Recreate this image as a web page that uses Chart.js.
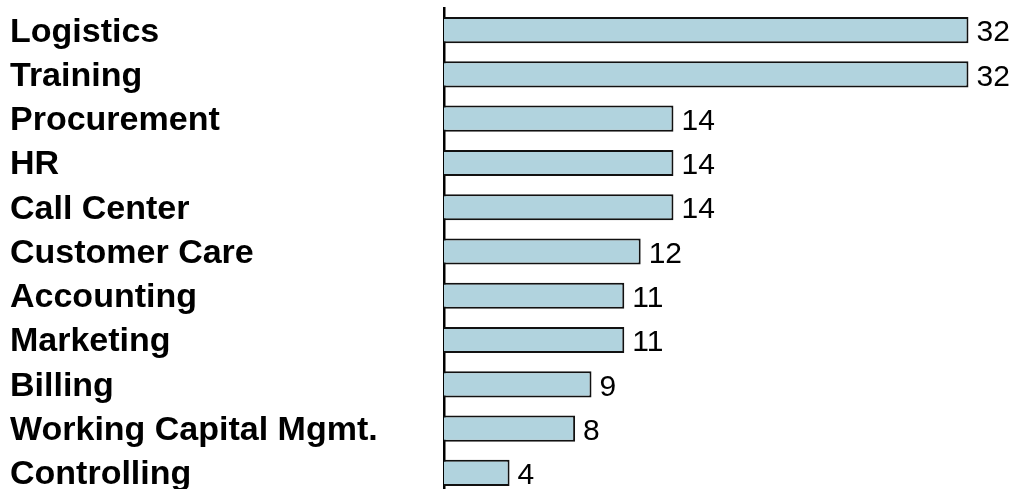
<!DOCTYPE html>
<html>
<head>
<meta charset="utf-8">
<script src="https://cdn.jsdelivr.net/npm/chart.js@4/dist/chart.umd.min.js"></script>
<style>
  html, body { margin: 0; padding: 0; background: #fff; overflow: hidden; }
  #wrap { width: 1016px; height: 496px; }
</style>
</head>
<body>
<div id="wrap"><canvas id="chart" width="1016" height="496"></canvas></div>
<script>
const departments = [
  "Logistics", "Training", "Procurement", "HR", "Call Center",
  "Customer Care", "Accounting", "Marketing", "Billing",
  "Working Capital Mgmt.", "Controlling"
];
const counts = [32, 32, 14, 14, 14, 12, 11, 11, 9, 8, 4];

// value text to the right of each bar
const valueLabels = {
  id: "valueLabels",
  afterDatasetsDraw(chart) {
    const ctx = chart.ctx;
    const meta = chart.getDatasetMeta(0);
    ctx.save();
    ctx.font = "30px 'Liberation Sans', Arial, sans-serif";
    ctx.fillStyle = "#000";
    ctx.textAlign = "left";
    ctx.textBaseline = "middle";
    meta.data.forEach((bar, i) => {
      ctx.fillText(String(counts[i]), bar.x + 8, bar.y + 3);
    });
    ctx.restore();
  }
};

new Chart(document.getElementById("chart").getContext("2d"), {
  type: "bar",
  data: {
    labels: departments,
    datasets: [{
      data: counts,
      backgroundColor: "#b1d3de",
      borderColor: "#111",
      borderWidth: 2,
      categoryPercentage: 1,
      barPercentage: 0.59
    }]
  },
  options: {
    indexAxis: "y",
    responsive: false,
    animation: false,
    layout: { padding: { left: 10, top: 8, right: 0, bottom: 1 } },
    plugins: {
      legend: { display: false },
      tooltip: { enabled: false }
    },
    scales: {
      x: {
        display: false,
        min: 0,
        max: 34.9
      },
      y: {
        grid: { display: false },
        border: { display: true, color: "#000", width: 2.5 },
        afterFit(scale) {
          // fixed label column, no extra room above/below the first and last label
          scale.width = 434;
          scale.paddingTop = 0;
          scale.paddingBottom = 0;
        },
        ticks: {
          crossAlign: "far",
          color: "#000",
          padding: 0,
          labelOffset: 2,
          font: { family: "'Liberation Sans', Arial, sans-serif", size: 34, weight: "bold" }
        }
      }
    }
  },
  plugins: [valueLabels]
});
</script>
</body>
</html>
